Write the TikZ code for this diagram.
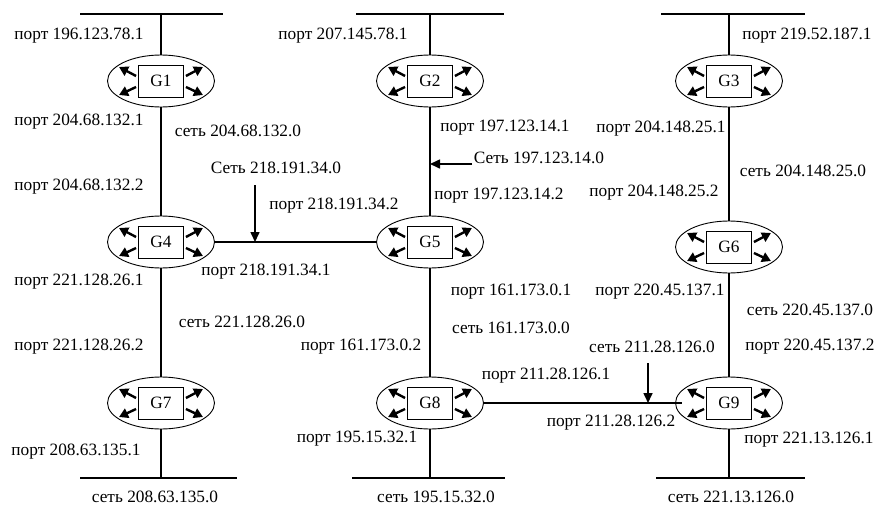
\documentclass[tikz,border=0pt]{standalone}
\usepackage{fontspec}
\setmainfont{Liberation Serif}
\usetikzlibrary{arrows.meta,calc,shapes.geometric}
\tikzset{
  rtell/.style={ellipse,draw,line width=0.9pt,minimum width=107pt,minimum height=52pt,inner sep=0pt},
  rtbox/.style={draw,line width=0.9pt,minimum width=45pt,minimum height=32pt,inner sep=0pt,fill=white},
  rtarr/.style={line width=2.4pt,-{Triangle[length=9pt,width=10pt]}},
  wire/.style={line width=1.4pt},
  netarr/.style={line width=1.6pt,-{Triangle[length=10pt,width=9pt]}},
  lbl/.style={inner sep=0pt,font=\fontsize{17.3}{20}\selectfont},
}
\newcommand\router[3]{%
  \node[rtell] (#1e) at (#2,#3) {};
  \node[rtbox,lbl] (#1) at (#2,#3) {#1};
  \draw[rtarr] ($(#1.west)+(-2,-5)$) -- ++(-17,-9);
  \draw[rtarr] ($(#1.west)+(-2,6)$) -- ++(-17,8);
  \draw[rtarr] ($(#1.east)+(2,-5)$) -- ++(17,-9);
  \draw[rtarr] ($(#1.east)+(2,6)$) -- ++(17,8);
}
\begin{document}
\begin{tikzpicture}[x=1pt,y=-1pt]
\useasboundingbox (0,0) rectangle (877,506);
% routers
\router{G1}{161}{81}
\router{G2}{430}{81}
\router{G3}{729}{81}
\router{G4}{161}{242}
\router{G5}{430}{242}
\router{G6}{729}{247}
\router{G7}{161}{403}
\router{G8}{430}{403}
\router{G9}{729}{403}
% bus coordinates
\coordinate (t1l) at (80,14);  \coordinate (t1r) at (223,14);  \coordinate (t1) at (161,14);
\coordinate (t2l) at (356,14); \coordinate (t2r) at (504,14);  \coordinate (t2) at (430,14);
\coordinate (t3l) at (661,14); \coordinate (t3r) at (805,14);  \coordinate (t3) at (729,14);
\coordinate (b1l) at (80,478); \coordinate (b1r) at (237,478); \coordinate (b1) at (161,478);
\coordinate (b2l) at (352,478); \coordinate (b2r) at (505,478); \coordinate (b2) at (430,478);
\coordinate (b3l) at (656,478); \coordinate (b3r) at (805,478); \coordinate (b3) at (729,478);
\draw[wire] (t1l) -- (t1r); \draw[wire] (t2l) -- (t2r); \draw[wire] (t3l) -- (t3r);
\draw[wire] (b1l) -- (b1r); \draw[wire] (b2l) -- (b2r); \draw[wire] (b3l) -- (b3r);
% vertical links
\draw[wire] (t1) -- (G1e.north);
\draw[wire] (t2) -- (G2e.north);
\draw[wire] (t3) -- (G3e.north);
\draw[wire] (G1e.south) -- (G4e.north);
\draw[wire] (G2e.south) -- (G5e.north);
\draw[wire] (G3e.south) -- (G6e.north);
\draw[wire] (G4e.south) -- (G7e.north);
\draw[wire] (G5e.south) -- (G8e.north);
\draw[wire] (G6e.south) -- (G9e.north);
\draw[wire] (G7e.south) -- (b1);
\draw[wire] (G8e.south) -- (b2);
\draw[wire] (G9e.south) -- (b3);
% horizontal links
\draw[wire] (G4e.east) -- (G5e.west);
\draw[wire] (G8e.east) -- ($(G9e.west)+(7,0)$);
% network arrows
\coordinate (n1s) at (255,185); \coordinate (n1e) at (255,242);
\draw[netarr] (n1s) -- (n1e);
\coordinate (n2s) at (472,164); \coordinate (n2e) at (430,164);
\draw[netarr] (n2s) -- (n2e);
\coordinate (n3s) at (648,363); \coordinate (n3e) at (648,403);
\draw[netarr] (n3s) -- (n3e);
% labels
\node[lbl] (l01) at (79,36) {порт 196.123.78.1};
\node[lbl] (l02) at (343,36) {порт 207.145.78.1};
\node[lbl] (l03) at (807,36) {порт 219.52.187.1};
\node[lbl] (l04) at (79,122) {порт 204.68.132.1};
\node[lbl] (l05) at (238,131) {сеть 204.68.132.0};
\node[lbl] (l06) at (79,187) {порт 204.68.132.2};
\node[lbl] (l07) at (276,168) {Сеть 218.191.34.0};
\node[lbl] (l08) at (334,206) {порт 218.191.34.2};
\node[lbl] (l09) at (505,128) {порт 197.123.14.1};
\node[lbl] (l10) at (539,158) {Сеть 197.123.14.0};
\node[lbl] (l11) at (499,196) {порт 197.123.14.2};
\node[lbl] (l12) at (661,129) {порт 204.148.25.1};
\node[lbl] (l13) at (803,171) {сеть 204.148.25.0};
\node[lbl] (l14) at (654,193) {порт 204.148.25.2};
\node[lbl] (l15) at (266,272) {порт 218.191.34.1};
\node[lbl] (l16) at (79,282) {порт 221.128.26.1};
\node[lbl] (l17) at (242,322) {сеть 221.128.26.0};
\node[lbl] (l18) at (79,347) {порт 221.128.26.2};
\node[lbl] (l19) at (361,347) {порт 161.173.0.2};
\node[lbl] (l20) at (511,292) {порт 161.173.0.1};
\node[lbl] (l21) at (511,328) {сеть 161.173.0.0};
\node[lbl] (l22) at (660,292) {порт 220.45.137.1};
\node[lbl] (l23) at (810,310) {сеть 220.45.137.0};
\node[lbl] (l24) at (810,347) {порт 220.45.137.2};
\node[lbl] (l25) at (652,347) {сеть 211.28.126.0};
\node[lbl] (l26) at (546,376) {порт 211.28.126.1};
\node[lbl] (l27) at (611,423) {порт 211.28.126.2};
\node[lbl] (l28) at (76,452) {порт 208.63.135.1};
\node[lbl] (l29) at (357,439) {порт 195.15.32.1};
\node[lbl] (l30) at (809,440) {порт 221.13.126.1};
\node[lbl] (l31) at (155,497) {сеть 208.63.135.0};
\node[lbl] (l32) at (436,497) {сеть 195.15.32.0};
\node[lbl] (l33) at (731,497) {сеть 221.13.126.0};
\end{tikzpicture}
\end{document}
